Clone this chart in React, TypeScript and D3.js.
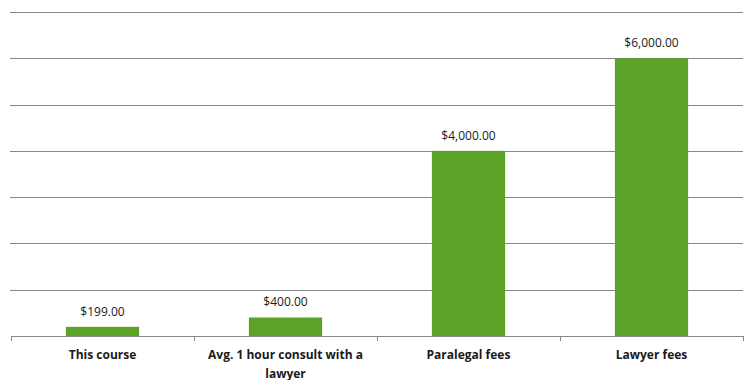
import { useEffect, useRef } from "react";
import * as d3 from "d3";

const categories = [
  ["This course"],
  ["Avg. 1 hour consult with a", "lawyer"],
  ["Paralegal fees"],
  ["Lawyer fees"],
];
const values = [199, 400, 4000, 6000];
const yTicks = [0, 1000, 2000, 3000, 4000, 5000, 6000, 7000];

export default function App() {
  const svgRef = useRef<SVGSVGElement>(null);

  useEffect(() => {
    if (!svgRef.current) return;
    const svg = d3.select(svgRef.current);
    svg.selectAll("*").remove();

    const width = 756;
    const height = 388;
    const left = 11;
    const right = 743;
    const top = 12;
    const bottom = 336;

    const names = categories.map((c) => c.join(" "));
    const x = d3.scaleBand<string>().domain(names).range([left, right]).padding(0);
    const y = d3.scaleLinear().domain([0, 7000]).range([bottom, top]);

    svg.attr("width", width).attr("height", height);

    // gridlines
    svg
      .append("g")
      .selectAll("line")
      .data(yTicks.slice(1))
      .enter()
      .append("line")
      .attr("x1", left - 1)
      .attr("x2", right)
      .attr("y1", (d) => Math.round(y(d)) + 0.5)
      .attr("y2", (d) => Math.round(y(d)) + 0.5)
      .attr("stroke", "#878787")
      .attr("stroke-width", 1);

    // bars
    const bw = x.bandwidth() * 0.4;
    svg
      .append("g")
      .selectAll("rect")
      .data(values)
      .enter()
      .append("rect")
      .attr("x", (d, i) => x(names[i])! + (x.bandwidth() - bw) / 2)
      .attr("y", (d) => y(d))
      .attr("width", bw)
      .attr("height", (d) => bottom - y(d))
      .attr("fill", "#5ba227");

    // value labels
    svg
      .append("g")
      .selectAll("text")
      .data(values)
      .enter()
      .append("text")
      .attr("x", (d, i) => x(names[i])! + x.bandwidth() / 2)
      .attr("y", (d) => y(d) - 11)
      .attr("text-anchor", "middle")
      .attr("font-family", "'Open Sans', sans-serif")
      .attr("font-size", "12px")
      .attr("fill", "#1a1a1a")
      .text((d) => d3.format("$,.2f")(d));

    // x axis
    const axis = svg.append("g");
    axis
      .append("line")
      .attr("x1", left)
      .attr("x2", right)
      .attr("y1", bottom + 0.5)
      .attr("y2", bottom + 0.5)
      .attr("stroke", "#878787");
    const edges = names.map((n) => x(n)!).concat([right]);
    axis
      .selectAll("line.tick")
      .data(edges)
      .enter()
      .append("line")
      .attr("class", "tick")
      .attr("x1", (d) => Math.round(d) + 0.5)
      .attr("x2", (d) => Math.round(d) + 0.5)
      .attr("y1", bottom)
      .attr("y2", bottom + 5)
      .attr("stroke", "#878787");

    categories.forEach((lines, i) => {
      const t = axis
        .append("text")
        .attr("text-anchor", "middle")
        .attr("font-family", "'Open Sans', sans-serif")
        .attr("font-weight", "bold")
        .attr("font-size", "12px")
        .attr("fill", "#1a1a1a");
      lines.forEach((l, j) => {
        t.append("tspan")
          .attr("x", x(names[i])! + x.bandwidth() / 2)
          .attr("y", bottom + 23 + j * 19)
          .text(l);
      });
    });
  }, []);

  return (
    <div style={{ margin: -8 }}>
      <svg ref={svgRef} style={{ display: "block" }} />
    </div>
  );
}
